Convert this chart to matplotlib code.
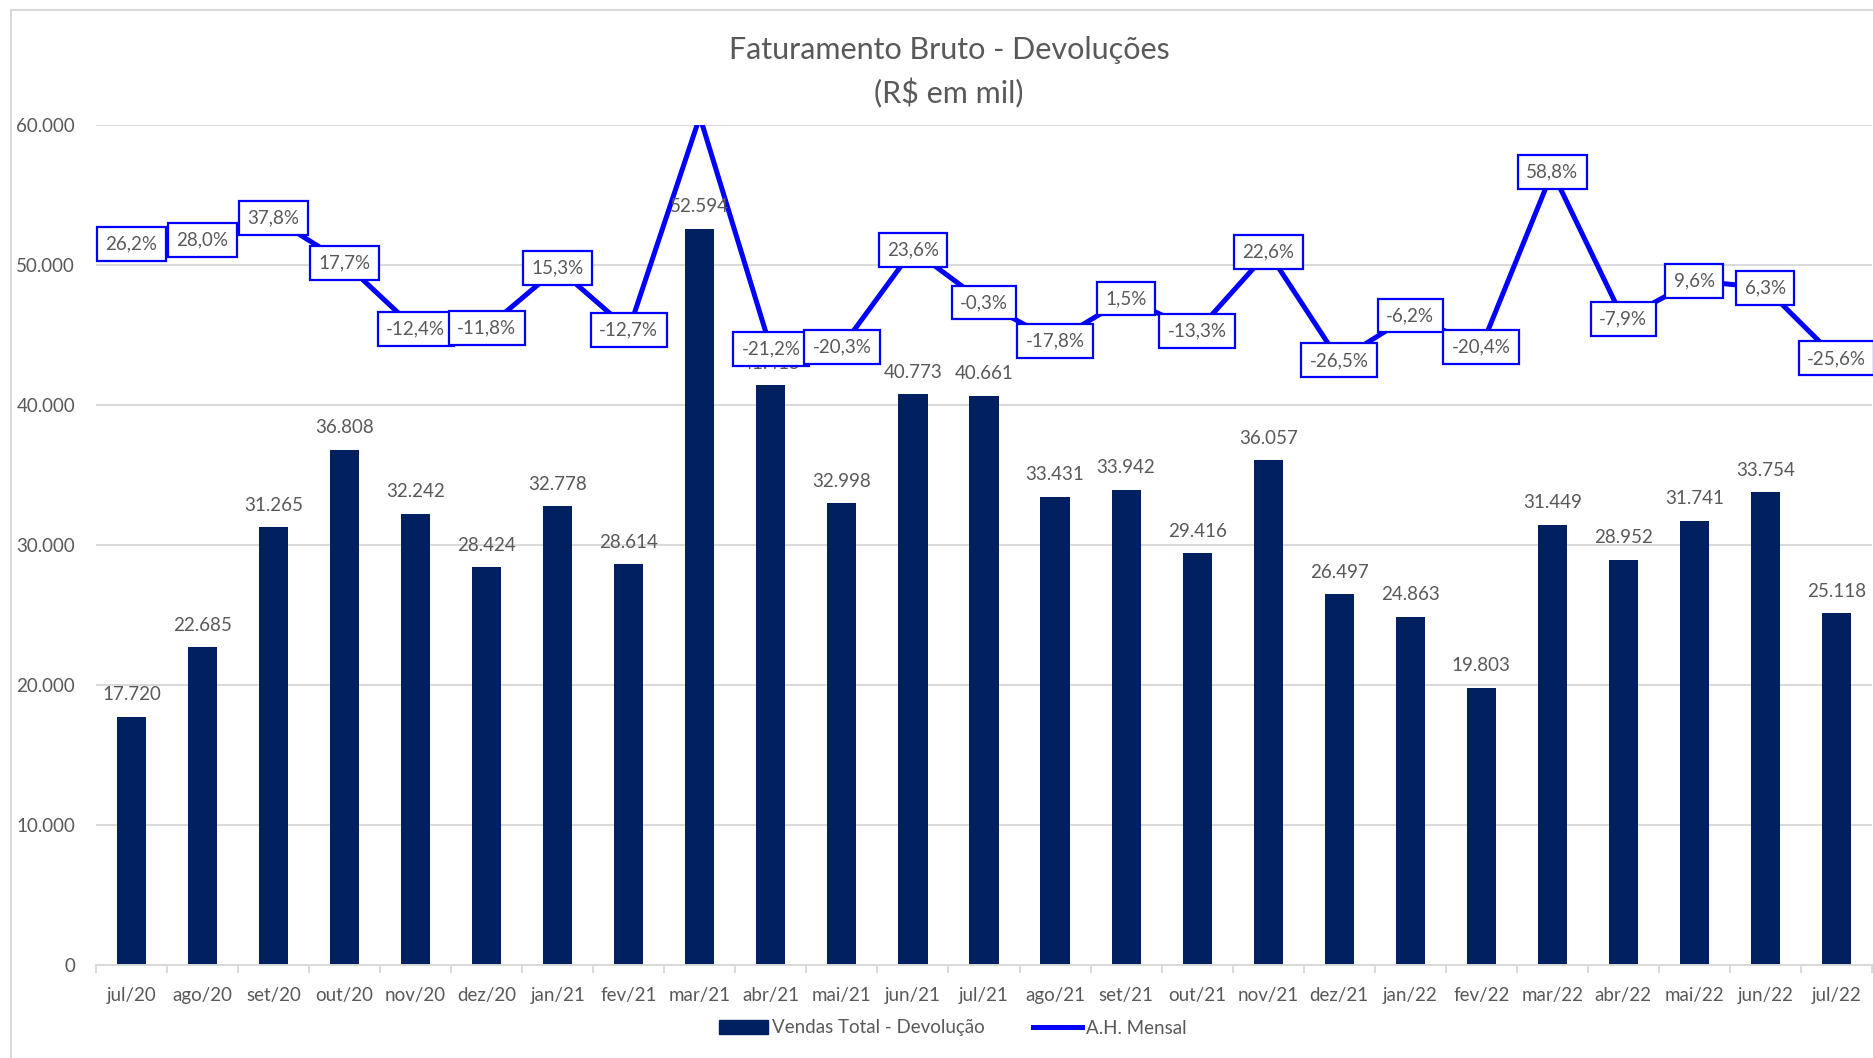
import matplotlib
matplotlib.use("Agg")
import matplotlib.pyplot as plt
from matplotlib.lines import Line2D
from matplotlib.patches import Patch

plt.rcParams['font.family'] = ['Lato', 'DejaVu Sans']

# data
meses = ['jul/20', 'ago/20', 'set/20', 'out/20', 'nov/20', 'dez/20', 'jan/21', 'fev/21',
         'mar/21', 'abr/21', 'mai/21', 'jun/21', 'jul/21', 'ago/21', 'set/21', 'out/21',
         'nov/21', 'dez/21', 'jan/22', 'fev/22', 'mar/22', 'abr/22', 'mai/22', 'jun/22', 'jul/22']
vendas = [17720, 22685, 31265, 36808, 32242, 28424, 32778, 28614, 52594, 41415, 32998, 40773,
          40661, 33431, 33942, 29416, 36057, 26497, 24863, 19803, 31449, 28952, 31741, 33754, 25118]
ah_mensal = [26.2, 28.0, 37.8, 17.7, -12.4, -11.8, 15.3, -12.7, 83.8, -21.2, -20.3, 23.6,
             -0.3, -17.8, 1.5, -13.3, 22.6, -26.5, -6.2, -20.4, 58.8, -7.9, 9.6, 6.3, -25.6]

W, H = 1874, 1058
cinza = '#595959'
grade = '#d9d9d9'
azul_barra = '#002060'
azul_linha = '#0000ff'

fig = plt.figure(figsize=(W / 100, H / 100), dpi=100)
ax = fig.add_axes([96 / W, 1 - 965 / H, (1872 - 96) / W, (965 - 125) / H])
ax2 = ax.twinx()

x = list(range(len(meses)))

# bars
ax.bar(x, vendas, width=0.41, color=azul_barra, zorder=2)
ax.set_xlim(-0.5, len(meses) - 0.5)
ax.set_ylim(0, 60000)
ax.set_yticks(range(0, 60001, 10000))
ax.set_yticklabels(['{:,}'.format(v).replace(',', '.') for v in range(0, 60001, 10000)])
ax.yaxis.grid(True, color=grade, lw=1.4, zorder=0)
ax.set_axisbelow(True)
for s in ['top', 'right', 'left']:
    ax.spines[s].set_visible(False)
ax.spines['bottom'].set_color(grade)
ax.spines['bottom'].set_linewidth(1.4)
ax.tick_params(axis='y', length=0, pad=15, labelsize=13.5, labelcolor=cinza)
ax.set_xticks(x)
ax.set_xticklabels(meses)
ax.tick_params(axis='x', length=0, pad=16, labelsize=13.5, labelcolor=cinza)
ax.set_xticks([i - 0.5 for i in range(len(meses) + 1)], minor=True)
ax.tick_params(axis='x', which='minor', length=6, width=1.4, color=grade)

# line on secondary axis
ax2.set_ylim(-3.0, 0.8)
ax2.axis('off')
ah = [v / 100 for v in ah_mensal]
ax2.plot(x, ah, color=azul_linha, lw=3.6, zorder=2, solid_joinstyle='miter')

# bar labels (above the line, below the boxes)
for i, v in enumerate(vendas):
    ax2.annotate('{:,}'.format(v).replace(',', '.'), xy=(i, v), xycoords=ax.transData,
                 xytext=(0, 22), textcoords='offset pixels', ha='center', va='center',
                 fontsize=13.5, color=cinza, zorder=3)

# line labels
lo, hi = ax2.get_ylim()
for i, v in enumerate(ah):
    if lo <= v <= hi:
        ax2.text(i, v, '{:.1f}%'.format(ah_mensal[i]).replace('.', ','), ha='center', va='center',
                 fontsize=13.5, color=cinza, zorder=4,
                 bbox=dict(boxstyle='square,pad=0.45', fc='white', ec=azul_linha, lw=1.6))

# title
fig.text(949 / W, 1 - 50 / H, 'Faturamento Bruto - Devoluções', ha='center', va='center',
         fontsize=22, color=cinza)
fig.text(949 / W, 1 - 93 / H, '(R$ em mil)', ha='center', va='center',
         fontsize=22, color=cinza)

# legend
handles = [Patch(facecolor=azul_barra, edgecolor=azul_barra),
           Line2D([0], [0], color=azul_linha, lw=3.6)]
fig.legend(handles, ['Vendas Total - Devolução', 'A.H. Mensal'], loc='center',
           bbox_to_anchor=(953 / W, 1 - 1028 / H), ncol=2, frameon=False,
           fontsize=13.5, labelcolor=cinza, handlelength=2.6, handleheight=0.7,
           handletextpad=0.2, columnspacing=2.6)

# chart border (cut at right and bottom)
fig.add_artist(Line2D([11 / W, 11 / W], [0, 1 - 10 / H], color=grade, lw=1.5))
fig.add_artist(Line2D([11 / W, 1], [1 - 10 / H, 1 - 10 / H], color=grade, lw=1.5))

fig.savefig('out.png', dpi=100, facecolor='white')
